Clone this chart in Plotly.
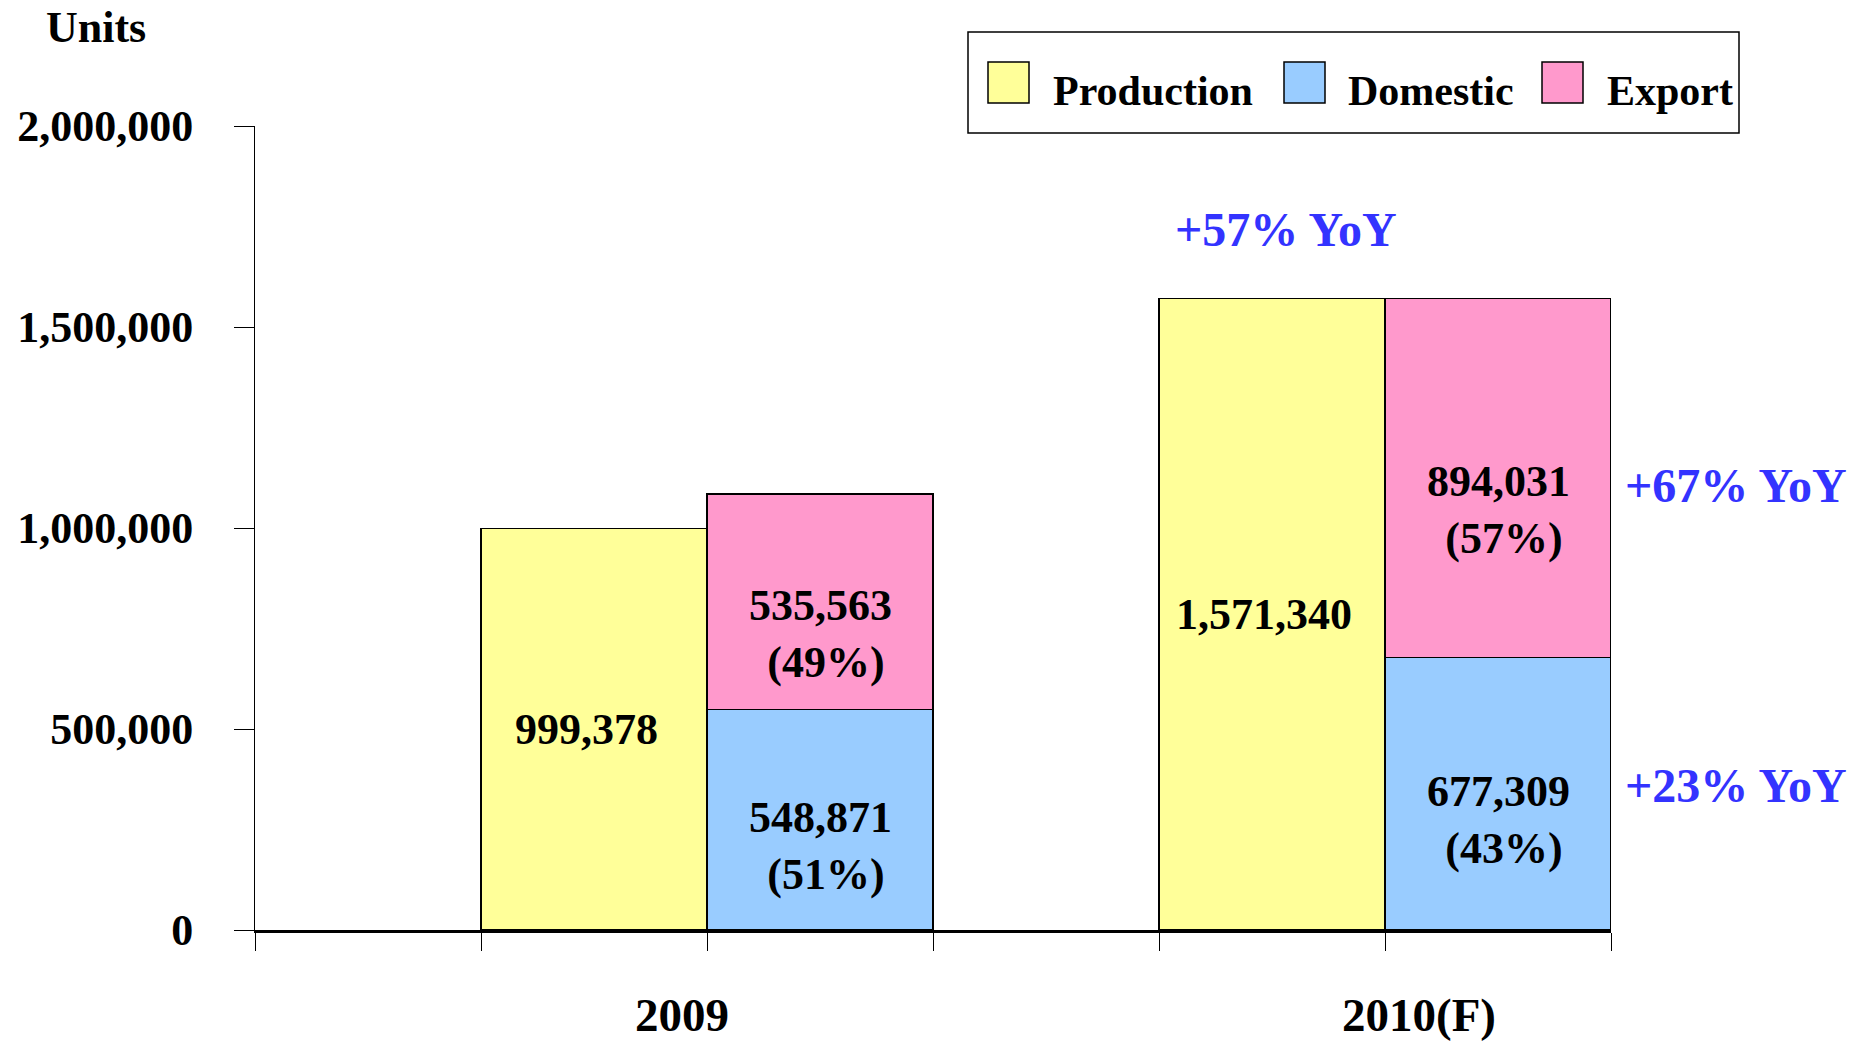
import plotly.graph_objects as go

# ---- data ----
categories = ["2009", "2010(F)"]
production = [999378, 1571340]
domestic = [548871, 677309]
export = [535563, 894031]
series_names = ["Production", "Domestic", "Export"]
yoy_production = ["", "+57% YoY"]
yoy_export = ["", "+67% YoY"]
yoy_domestic = ["", "+23% YoY"]
y_ticks = [0, 500000, 1000000, 1500000, 2000000]

# ---- style ----
W, H = 1863, 1043
PL, PR, PT, PB = 255, 1611, 126, 930  # plot area in window pixels
PW, PH = PR - PL, PB - PT
L, T = PL, PT
R, B = W - L - PW, H - T - PH
FONT = "Liberation Serif, Times New Roman, serif"
C_PROD, C_DOM, C_EXP = "#FFFF99", "#99CCFF", "#FF99CC"
BLUE = "#3333FF"


def px_x(px):
    return (px - PL) / PW


def px_y(py):
    return (PB - py) / PH


prod_x = [3 * i + 1.5 for i in range(len(categories))]
side_x = [3 * i + 2.5 for i in range(len(categories))]

line = dict(color="black", width=1.5)
fig = go.Figure()
fig.add_trace(go.Bar(x=prod_x, y=production, name=series_names[0], width=1,
                     marker=dict(color=C_PROD, line=line), hoverinfo="skip"))
fig.add_trace(go.Bar(x=side_x, y=domestic, name=series_names[1], width=1,
                     marker=dict(color=C_DOM, line=line), hoverinfo="skip"))
fig.add_trace(go.Bar(x=side_x, y=export, name=series_names[2], width=1,
                     marker=dict(color=C_EXP, line=line), hoverinfo="skip"))

ann = []
lab_font = dict(family=FONT, size=44, color="black", weight="bold")
yoy_font = dict(family=FONT, size=48, color=BLUE, weight="bold")
for i in range(len(categories)):
    tot = domestic[i] + export[i]
    ann.append(dict(x=prod_x[i], y=production[i] / 2, xref="x", yref="y",
                    text=f"{production[i]:,}", showarrow=False, font=lab_font,
                    yanchor="middle", xshift=-8))
    ann.append(dict(x=side_x[i], y=domestic[i] / 2, xref="x", yref="y",
                    text=f"{domestic[i]:,}<br> ({round(100 * domestic[i] / tot)}%)",
                    showarrow=False, font=lab_font, yshift=-26, yanchor="middle"))
    ann.append(dict(x=side_x[i], y=domestic[i] + export[i] / 2, xref="x", yref="y",
                    text=f"{export[i]:,}<br> ({round(100 * export[i] / tot)}%)",
                    showarrow=False, font=lab_font, yshift=-32, yanchor="middle"))
    if yoy_production[i]:
        ann.append(dict(x=prod_x[i], y=production[i], xref="x", yref="y",
                        text=yoy_production[i], showarrow=False, font=yoy_font,
                        yshift=69, xshift=14, yanchor="middle"))
    if yoy_export[i]:
        ann.append(dict(x=side_x[i] + 0.5, y=domestic[i] + export[i] / 2, xref="x", yref="y",
                        text=yoy_export[i], showarrow=False, font=yoy_font,
                        xanchor="left", xshift=12, yshift=-7, yanchor="middle"))
    if yoy_domestic[i]:
        ann.append(dict(x=side_x[i] + 0.5, y=domestic[i] / 2, xref="x", yref="y",
                        text=yoy_domestic[i], showarrow=False, font=yoy_font,
                        xanchor="left", xshift=12, yshift=8, yanchor="middle"))

cat_x = [1.89, 5.15]
for i, c in enumerate(categories):
    ann.append(dict(x=cat_x[i], y=px_y(1015), xref="x", yref="paper", text=c,
                    showarrow=False, yanchor="middle",
                    font=dict(family=FONT, size=47, color="black", weight="bold")))

ann.append(dict(x=px_x(44), y=px_y(27), xref="paper", yref="paper", text="Units",
                xanchor="left", yanchor="middle", showarrow=False,
                font=dict(family=FONT, size=44, color="black", weight="bold")))

# ---- legend (drawn) ----
shapes = [dict(type="rect", xref="paper", yref="paper", x0=px_x(968), x1=px_x(1739),
               y0=px_y(32), y1=px_y(133), line=dict(color="black", width=1.5),
               fillcolor="white")]
sw_x = [988, 1284, 1542]
tx_x = [1051, 1346, 1605]
for name, col, sx, tx in zip(series_names, [C_PROD, C_DOM, C_EXP], sw_x, tx_x):
    shapes.append(dict(type="rect", xref="paper", yref="paper", x0=px_x(sx), x1=px_x(sx + 41),
                       y0=px_y(62), y1=px_y(103), line=dict(color="black", width=1.5),
                       fillcolor=col))
    ann.append(dict(x=px_x(tx), y=px_y(91), xref="paper", yref="paper", text=name,
                    xanchor="left", yanchor="middle", showarrow=False,
                    font=dict(family=FONT, size=42, color="black", weight="bold")))

fig.update_layout(
    width=W, height=H, barmode="stack", showlegend=False,
    margin=dict(l=L, r=R, t=T, b=B, autoexpand=False),
    paper_bgcolor="white", plot_bgcolor="white",
    font=dict(family=FONT, color="black", weight="bold"),
    annotations=ann, shapes=shapes,
    xaxis=dict(range=[0, 6], tickvals=list(range(7)), showticklabels=False,
               ticks="outside", ticklen=18, tickwidth=1, tickcolor="black",
               showline=True, linewidth=3, linecolor="black",
               showgrid=False, zeroline=False, fixedrange=True),
    yaxis=dict(range=[0, 2000000], tickvals=y_ticks, tickformat=",d",
               ticks="outside", ticklen=20, tickwidth=1, tickcolor="black",
               tickfont=dict(family=FONT, size=44, color="black", weight="bold"),
               ticklabelstandoff=32,
               showline=True, linewidth=1, linecolor="black",
               showgrid=False, zeroline=False, fixedrange=True),
)

fig.write_html(
    "out.html",
    config={"displayModeBar": False},
    post_script="document.body.style.margin='0';document.body.style.overflow='hidden';",
)
